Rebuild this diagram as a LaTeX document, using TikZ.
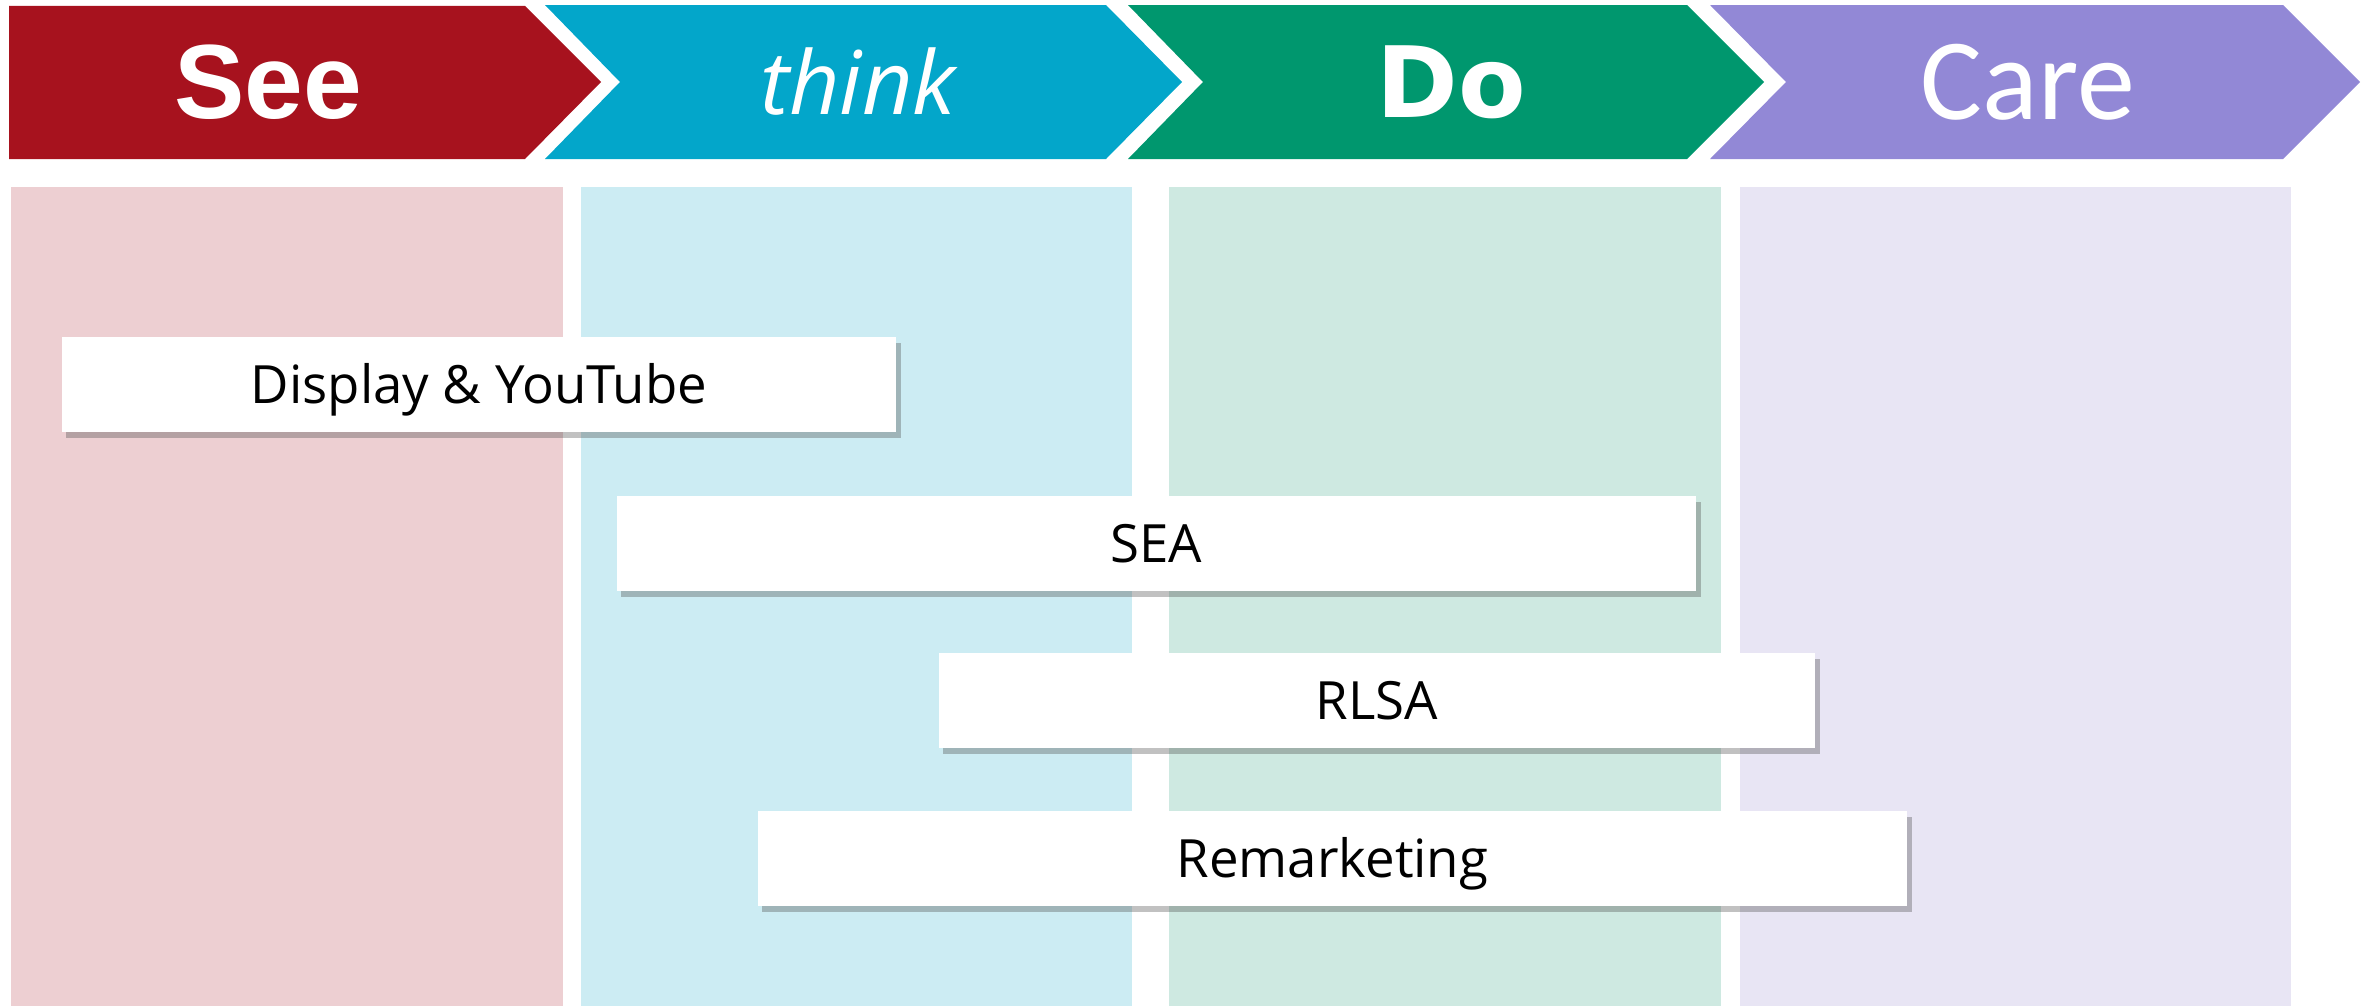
\documentclass[tikz,border=0pt]{standalone}
\usepackage{fontspec}
\setmainfont{Open Sans}
\newfontfamily\seefont{Liberation Sans}
\newfontfamily\dofont{DejaVu Sans}
\newfontfamily\carefont{Carlito}
\usetikzlibrary{shadows}

\definecolor{seecol}{RGB}{167,18,30}
\definecolor{thinkcol}{RGB}{3,166,202}
\definecolor{docol}{RGB}{0,151,110}
\definecolor{carecol}{RGB}{146,136,214}
\definecolor{seepale}{RGB}{237,207,210}
\definecolor{thinkpale}{RGB}{204,236,243}
\definecolor{dopale}{RGB}{206,233,225}
\definecolor{carepale}{RGB}{232,229,244}

\tikzset{
  phase/.style={text=white, inner sep=0pt, anchor=center},
  channel/.style={fill=white, inner sep=0pt, minimum height=0.94cm,
    text height=10.7pt, text depth=0pt,
    font=\fontsize{15}{18}\selectfont,
    drop shadow={shadow xshift=0.045cm, shadow yshift=-0.06cm, opacity=0.35, fill=black!70}}
}

\begin{document}
\begin{tikzpicture}[x=0.01cm,y=-0.01cm]
		\useasboundingbox (0,0) rectangle (2374,1006);

		% Header arrows
		\fill[seecol] (9,6) -- (525,6) -- (601,82) -- (525,159) -- (9,159) -- cycle;
		\fill[thinkcol] (545,5) -- (1106,5) -- (1182,82) -- (1106,159) -- (545,159) -- (620,82) -- cycle;
		\fill[docol] (1128,5) -- (1687,5) -- (1764,82) -- (1687,159) -- (1128,159) -- (1203,82) -- cycle;
		\fill[carecol] (1710,5) -- (2283,5) -- (2360,82) -- (2283,159) -- (1710,159) -- (1786,82) -- cycle;

		\node[phase, font=\seefont\bfseries\fontsize{30}{36}\selectfont] (see) at (268,82) {See};
		\node[phase, font=\itshape\rmfamily\fontsize{25}{30}\selectfont] (think) at (858,82) {think};
		\node[phase, font=\dofont\bfseries\fontsize{28}{34}\selectfont] (do) at (1451,82) {Do};
		\node[phase, font=\carefont\fontsize{33}{40}\selectfont] (care) at (2028,82) {Care};

		% Columns
		\fill[seepale] (11,187) rectangle (563,1006);
		\fill[thinkpale] (581,187) rectangle (1132,1006);
		\fill[dopale] (1169,187) rectangle (1721,1006);
		\fill[carepale] (1740,187) rectangle (2291,1006);

		% Channels
		\node[channel, minimum width=8.34cm] (display) at (479,384.5) {Display \& YouTube};
		\node[channel, minimum width=10.79cm] (sea) at (1156.5,543.5) {SEA};
		\node[channel, minimum width=8.76cm] (rlsa) at (1377,700.5) {RLSA};
		\node[channel, minimum width=11.49cm] (remarketing) at (1332.5,858.5) {Remarketing};
	\end{tikzpicture}
\end{document}
